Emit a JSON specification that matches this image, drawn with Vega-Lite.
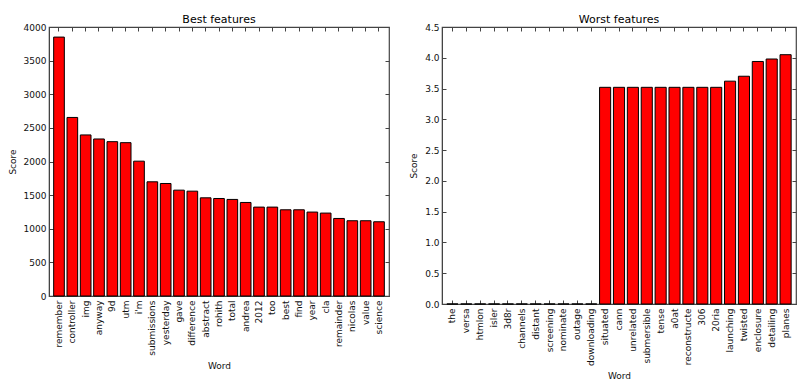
{
  "$schema": "https://vega.github.io/schema/vega-lite/v6.json",
  "background": "white",
  "padding": {"left": 7, "top": 13, "right": 5, "bottom": 5},
  "spacing": 18,
  "config": {
    "font": "DejaVu Sans",
    "view": {"stroke": "#444444", "strokeWidth": 1.2},
    "title": {"fontSize": 11, "fontWeight": "normal", "font": "DejaVu Sans", "color": "black", "offset": -2},
    "axis": {
      "labelFont": "DejaVu Sans", "titleFont": "DejaVu Sans",
      "labelFontSize": 9, "titleFontSize": 9, "titleFontWeight": "normal",
      "labelColor": "#111111", "titleColor": "#111111",
      "domainColor": "#444444", "tickColor": "#444444", "grid": false
    },
    "bar": {"fill": "#ff0000", "stroke": "black", "strokeWidth": 1}
  },
  "datasets": {
    "best": [
      {"word": "remember", "score": 3850},
      {"word": "controller", "score": 2655},
      {"word": "img", "score": 2395},
      {"word": "anyway", "score": 2335},
      {"word": "9d", "score": 2295},
      {"word": "utm", "score": 2280},
      {"word": "i'm", "score": 2005},
      {"word": "submissions", "score": 1698},
      {"word": "yesterday", "score": 1673},
      {"word": "gave", "score": 1574},
      {"word": "difference", "score": 1559},
      {"word": "abstract", "score": 1460},
      {"word": "rohith", "score": 1450},
      {"word": "total", "score": 1436},
      {"word": "andrea", "score": 1391},
      {"word": "2012", "score": 1322},
      {"word": "too", "score": 1322},
      {"word": "best", "score": 1282},
      {"word": "find", "score": 1282},
      {"word": "year", "score": 1248},
      {"word": "cla", "score": 1233},
      {"word": "remainder", "score": 1153},
      {"word": "nicolas", "score": 1119},
      {"word": "value", "score": 1119},
      {"word": "science", "score": 1104}
    ],
    "worst": [
      {"word": "the", "score": 0},
      {"word": "versa", "score": 0},
      {"word": "htmlon", "score": 0},
      {"word": "isler", "score": 0},
      {"word": "3d8r", "score": 0},
      {"word": "channels", "score": 0},
      {"word": "distant", "score": 0},
      {"word": "screening", "score": 0},
      {"word": "nominate", "score": 0},
      {"word": "outage", "score": 0},
      {"word": "downloading", "score": 0},
      {"word": "situated", "score": 3.52},
      {"word": "cann", "score": 3.52},
      {"word": "unrelated", "score": 3.52},
      {"word": "submersible", "score": 3.52},
      {"word": "tense", "score": 3.52},
      {"word": "a0at", "score": 3.52},
      {"word": "reconstructe", "score": 3.52},
      {"word": "306", "score": 3.52},
      {"word": "20ria", "score": 3.52},
      {"word": "launching", "score": 3.62},
      {"word": "twisted", "score": 3.7},
      {"word": "enclosure", "score": 3.94},
      {"word": "detailing", "score": 3.98},
      {"word": "planes", "score": 4.05}
    ]
  },
  "hconcat": [
    {
      "title": "Best features",
      "width": 340,
      "height": 269,
      "data": {"name": "best"},
      "resolve": {"axis": {"x": "independent", "y": "independent"}},
      "layer": [
        {
          "mark": {"type": "bar"},
          "encoding": {
            "x": {
              "field": "word", "type": "nominal", "sort": null,
              "scale": {"paddingInner": 0.2, "paddingOuter": 0.35},
              "axis": {"title": "Word", "labelAngle": -90, "labelAlign": "right", "labelBaseline": "middle", "tickSize": -4, "labelPadding": 8, "titlePadding": 6}
            },
            "y": {
              "field": "score", "type": "quantitative",
              "scale": {"domain": [0, 4000], "nice": false},
              "axis": {"title": "Score", "format": "d", "values": [0, 500, 1000, 1500, 2000, 2500, 3000, 3500, 4000], "tickSize": -4, "labelPadding": 7, "titlePadding": 6}
            }
          }
        },
        {
          "mark": {"type": "bar", "opacity": 0},
          "encoding": {
            "x": {
              "field": "word", "type": "nominal", "sort": null,
              "axis": {"orient": "top", "title": null, "labels": false, "tickSize": -4, "domain": false}
            },
            "y": {
              "field": "score", "type": "quantitative",
              "axis": {"orient": "right", "title": null, "labels": false, "values": [0, 500, 1000, 1500, 2000, 2500, 3000, 3500, 4000], "tickSize": -4, "domain": false}
            }
          }
        }
      ]
    },
    {
      "title": "Worst features",
      "width": 354,
      "height": 277,
      "data": {"name": "worst"},
      "resolve": {"axis": {"x": "independent", "y": "independent"}},
      "layer": [
        {
          "mark": {"type": "bar"},
          "encoding": {
            "x": {
              "field": "word", "type": "nominal", "sort": null,
              "scale": {"paddingInner": 0.2, "paddingOuter": 0.35},
              "axis": {"title": "Word", "labelAngle": -90, "labelAlign": "right", "labelBaseline": "middle", "tickSize": -4, "labelPadding": 8, "titlePadding": 6}
            },
            "y": {
              "field": "score", "type": "quantitative",
              "scale": {"domain": [0, 4.5], "nice": false},
              "axis": {"title": "Score", "values": [0, 0.5, 1, 1.5, 2, 2.5, 3, 3.5, 4, 4.5], "format": ".1f", "tickSize": -4, "labelPadding": 7, "titlePadding": 6}
            }
          }
        },
        {
          "mark": {"type": "bar", "opacity": 0},
          "encoding": {
            "x": {
              "field": "word", "type": "nominal", "sort": null,
              "axis": {"orient": "top", "title": null, "labels": false, "tickSize": -4, "domain": false}
            },
            "y": {
              "field": "score", "type": "quantitative",
              "axis": {"orient": "right", "title": null, "labels": false, "values": [0, 0.5, 1, 1.5, 2, 2.5, 3, 3.5, 4, 4.5], "tickSize": -4, "domain": false}
            }
          }
        }
      ]
    }
  ]
}
